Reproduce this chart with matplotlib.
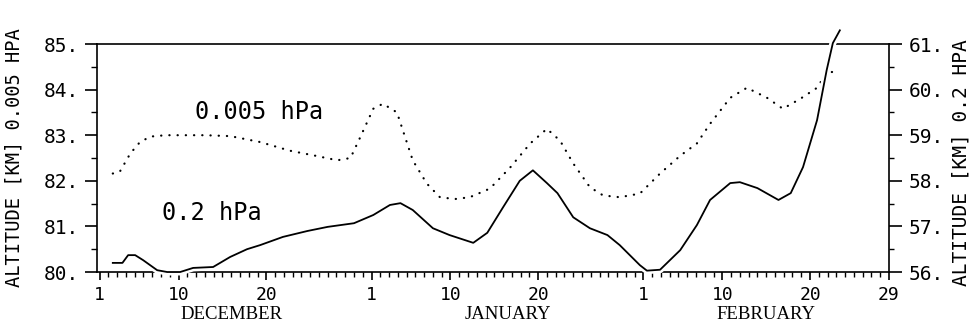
import matplotlib.pyplot as plt
import matplotlib.patheffects as pe
from matplotlib.ticker import FixedLocator, FuncFormatter
from matplotlib.transforms import blended_transform_factory

# day index: 0 = 1 December, 31 = 1 January, 62 = 1 February, 90 = 29 February
tick_days = [0, 9, 19, 31, 40, 50, 62, 71, 81, 90]
tick_labels = ["1", "10", "20", "1", "10", "20", "1", "10", "20", "29"]
months = ["DECEMBER", "JANUARY", "FEBRUARY"]
month_mid_days = [15, 46.5, 76]

# 0.005 hPa altitude (left axis, km), dotted
day_005 = [1.5, 2.3, 3.5, 4.6, 5.8, 7.5, 9.2, 12, 14.9, 18.3, 21.7, 24.6, 27.1,
           28.6, 29.7, 31.2, 32.3, 33.9, 35.7, 37.3, 38.8, 40.5, 42.2, 44.5,
           46.8, 49.1, 51.0, 52.5, 54.0, 55.9, 57.4, 59.3, 61.6, 63.9, 66.2,
           68.1, 69.6, 71.9, 73.8, 76.1, 77.9, 79.9, 81.8, 82.9, 84.4]
alt_005 = [82.16, 82.2, 82.6, 82.85, 82.97, 83.0, 83.0, 83.0, 82.98, 82.85,
           82.66, 82.55, 82.45, 82.5, 82.95, 83.58, 83.69, 83.5, 82.45, 81.94,
           81.64, 81.6, 81.64, 81.83, 82.29, 82.82, 83.14, 82.88, 82.38, 81.86,
           81.68, 81.64, 81.72, 82.16, 82.55, 82.82, 83.25, 83.82, 84.04, 83.82,
           83.58, 83.8, 84.04, 84.37, 84.41]

# 0.2 hPa altitude (right axis, km), solid
day_02 = [1.5, 2.6, 3.25, 4.05, 4.96, 6.56, 7.7, 9.18, 10.66, 12.94, 14.88,
          16.8, 18.3, 20.9, 23.7, 26.0, 29.0, 31.2, 33.1, 34.3, 35.7, 38.0,
          39.9, 42.6, 44.2, 46.0, 47.9, 49.4, 51.0, 52.2, 54.0, 55.9, 57.9,
          59.3, 61.6, 62.4, 63.9, 66.2, 68.1, 69.6, 71.9, 73.0, 75.0, 77.4,
          78.8, 80.2, 81.8, 82.9, 83.6, 84.4]
alt_02 = [56.2, 56.2, 56.37, 56.37, 56.26, 56.04, 56.0, 56.0, 56.09, 56.11,
          56.33, 56.5, 56.59, 56.77, 56.9, 56.99, 57.07, 57.25, 57.47, 57.51,
          57.36, 56.96, 56.81, 56.64, 56.86, 57.42, 58.0, 58.23, 57.95, 57.73,
          57.2, 56.96, 56.81, 56.59, 56.15, 56.03, 56.05, 56.48, 57.03, 57.58,
          57.95, 57.97, 57.84, 57.58, 57.73, 58.3, 59.33, 60.43, 61.02, 61.3]

mono = "DejaVu Sans Mono"

fig = plt.figure(figsize=(9.74, 3.26), dpi=100)
ax = fig.add_axes([0.0996, 0.1656, 0.8131, 0.6994])
ax2 = ax.twinx()

ax.plot(day_005, alt_005, color="black", lw=1.6,
        linestyle=(0, (0.1, 3.6)), dash_capstyle="round", zorder=3)
ax2.plot(day_02, alt_02, color="black", lw=1.3, clip_on=False, zorder=3,
         path_effects=[pe.Stroke(linewidth=5, foreground="white"), pe.Normal()])

ax.set_xlim(-0.3, 90)
ax.set_ylim(80, 85)
ax2.set_ylim(56, 61)

for a in (ax, ax2):
    for s in a.spines.values():
        s.set_linewidth(1.2)
ax.spines["right"].set_visible(False)
ax2.spines["left"].set_visible(False)
ax2.spines["top"].set_visible(False)
ax2.spines["bottom"].set_visible(False)

ax.xaxis.set_major_locator(FixedLocator(tick_days))
ax.xaxis.set_minor_locator(FixedLocator(range(0, 91)))
ax.set_xticklabels(tick_labels, fontfamily=mono, fontsize=13)
ax.tick_params(axis="x", which="major", direction="out", length=6, width=1.2, pad=4)
ax.tick_params(axis="x", which="minor", direction="out", length=3.5, width=1)

fmt = FuncFormatter(lambda v, p: f"{v:.0f}.")
ax.yaxis.set_major_locator(FixedLocator([80, 81, 82, 83, 84, 85]))
ax.yaxis.set_minor_locator(FixedLocator([80.5, 81.5, 82.5, 83.5, 84.5]))
ax.yaxis.set_major_formatter(fmt)
ax.tick_params(axis="y", which="major", direction="out", length=9, width=1.2, pad=4,
               labelsize=14)
ax.tick_params(axis="y", which="minor", direction="out", length=4.5, width=1)
for lab in ax.get_yticklabels():
    lab.set_fontfamily(mono)

ax2.yaxis.set_major_locator(FixedLocator([56, 57, 58, 59, 60, 61]))
ax2.yaxis.set_minor_locator(FixedLocator([56.5, 57.5, 58.5, 59.5, 60.5]))
ax2.yaxis.set_major_formatter(fmt)
ax2.tick_params(axis="y", which="major", direction="out", length=9, width=1.2, pad=5,
                labelsize=14)
ax2.tick_params(axis="y", which="minor", direction="out", length=3.5, width=1)
for lab in ax2.get_yticklabels():
    lab.set_fontfamily(mono)

ax.set_ylabel("ALTITUDE [KM] 0.005 HPA", fontfamily=mono, fontsize=13.5)
ax.yaxis.set_label_coords(-0.093, 0.5)
ax2.set_ylabel("ALTITUDE [KM] 0.2 HPA", fontfamily=mono, fontsize=14)
ax2.yaxis.set_label_coords(1.079, 0.48)

ax.text(10.9, 83.51, "0.005 hPa", fontfamily=mono, fontsize=17, va="center")
ax.text(7.1, 81.29, "0.2 hPa", fontfamily=mono, fontsize=17, va="center")

trans = blended_transform_factory(ax.transData, ax.transAxes)
for m, d in zip(months, month_mid_days):
    ax.text(d, -0.185, m, transform=trans, ha="center", va="center",
            fontfamily="Liberation Serif", fontsize=13.5)

fig.savefig("out.png", dpi=100)
